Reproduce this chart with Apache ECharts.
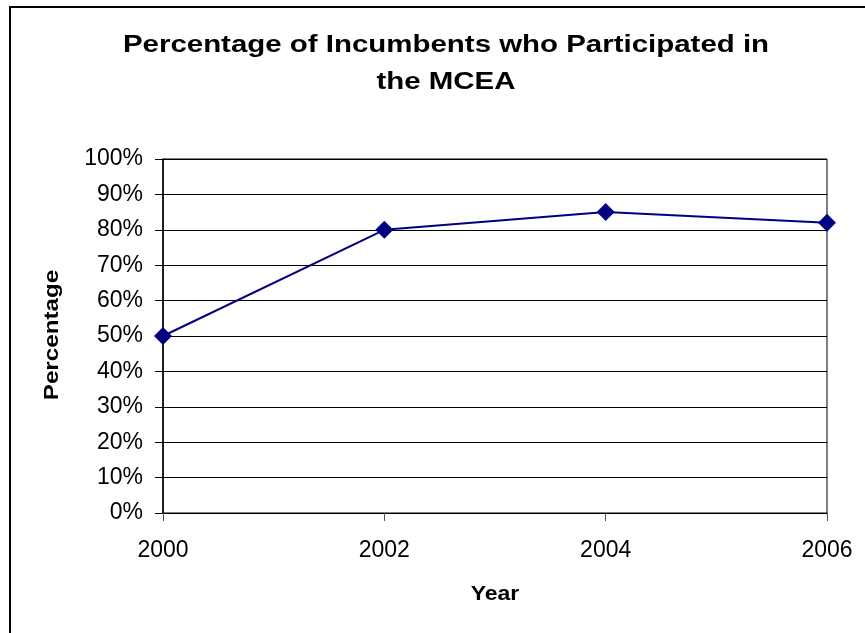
<!DOCTYPE html>
<html>
<head>
<meta charset="utf-8">
<script src="https://cdn.jsdelivr.net/npm/echarts@6/dist/echarts.min.js"></script>
<style>html,body{margin:0;padding:0;background:#fff}#c{width:865px;height:633px}</style>
</head>
<body>
<div id="c"></div>
<script>
var years = ['2000', '2002', '2004', '2006'];
var participation = [50, 80, 85, 82];
var titleLines = ['Percentage of Incumbents who Participated in', 'the MCEA'];
var xTitle = 'Year';
var yTitle = 'Percentage';

var FONT = 'Liberation Sans, Arial, sans-serif';
function stretchedText(txt, x, y, size, sx, rot) {
  return {
    type: 'group', x: x, y: y, scaleX: sx, rotation: rot || 0, silent: true,
    children: [{
      type: 'text', x: 0, y: 0,
      style: {text: txt, fontFamily: FONT, fontSize: size, fontWeight: 'bold', fill: '#000',
        textAlign: 'center', textVerticalAlign: 'middle'}
    }]
  };
}

var chart = echarts.init(document.getElementById('c'), null, {renderer: 'canvas'});
chart.setOption({
  animation: false,
  backgroundColor: '#fff',
  graphic: [
    {type: 'rect', shape: {x: 10, y: 7, width: 900, height: 700},
      style: {fill: 'none', stroke: '#000', lineWidth: 2}, silent: true},
    stretchedText(titleLines[0], 446, 46, 23, 1.28),
    stretchedText(titleLines[1], 446, 83, 23, 1.28),
    stretchedText(xTitle, 495, 594, 20, 1.15),
    stretchedText(yTitle, 52, 335, 20, 1.21, Math.PI / 2)
  ],
  grid: {left: 163, right: 38, top: 159, bottom: 120, show: true, borderColor: '#000', borderWidth: 1},
  xAxis: {
    type: 'category', data: years, boundaryGap: false,
    axisLine: {lineStyle: {color: '#000', width: 1}},
    axisTick: {show: true, length: 8, lineStyle: {color: '#555'}},
    axisLabel: {fontFamily: FONT, fontSize: 23, color: '#000', margin: 26},
    splitLine: {show: false}
  },
  yAxis: {
    type: 'value', min: 0, max: 100, interval: 10,
    axisLine: {show: true, lineStyle: {color: '#000', width: 1.5}},
    axisTick: {show: true, length: 8, lineStyle: {color: '#000'}},
    axisLabel: {fontFamily: FONT, fontSize: 23, color: '#000', margin: 20,
      formatter: function (v) { return v + '%'; }},
    splitLine: {show: true, lineStyle: {color: '#000', width: 1}}
  },
  series: [{
    type: 'line', data: participation,
    symbol: 'diamond', symbolSize: 18,
    lineStyle: {color: '#000080', width: 2},
    itemStyle: {color: '#000080'}
  }]
});
</script>
</body>
</html>
